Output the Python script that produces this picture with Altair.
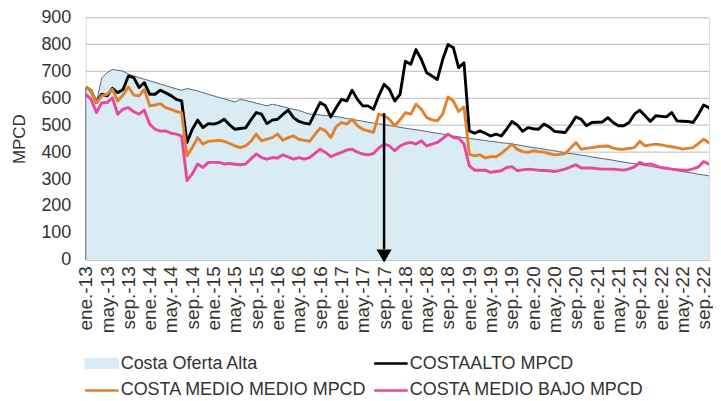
import altair as alt
import pandas as pd

MESES = ["ene.", "feb.", "mar.", "abr.", "may.", "jun.", "jul.", "ago.", "sep.", "oct.", "nov.", "dic."]
N = 119  # ene.-13 .. nov.-22
fechas = [f"{MESES[i % 12]}-{13 + i // 12}" for i in range(N)]

oferta_alta = [
    640, 625, 585, 676, 695, 707, 704, 701, 690, 683,
    677, 671, 665, 659, 653, 647, 641, 635, 630, 636,
    632, 627, 621, 615, 609, 603, 598, 592, 586, 596,
    592, 587, 582, 577, 572, 578, 574, 569, 564, 559,
    555, 548, 541, 540, 538, 536, 534, 532, 529, 525,
    522, 518, 515, 511, 508, 505, 502, 499, 496, 492,
    489, 486, 483, 480, 477, 473, 470, 467, 463, 460,
    457, 454, 451, 448, 446, 443, 440, 438, 435, 433,
    430, 427, 424, 420, 417, 414, 411, 408, 405, 401,
    398, 395, 392, 389, 386, 382, 379, 376, 373, 370,
    366, 363, 360, 357, 354, 351, 347, 344, 341, 338,
    335, 331, 328, 325, 322, 318, 315, 312, 309,
]

costa_alto = [
    642, 628, 584, 615, 609, 637, 621, 633, 683, 677,
    640, 658, 615, 615, 630, 620, 610, 596, 590, 436,
    485, 519, 491, 506, 504, 510, 522, 501, 485, 488,
    490, 520, 547, 541, 506, 519, 522, 540, 556, 528,
    514, 508, 504, 545, 584, 572, 531, 565, 596, 590,
    630, 596, 572, 572, 559, 609, 652, 633, 590, 615,
    738, 726, 781, 744, 695, 683, 670, 744, 800, 788,
    714, 732, 479, 470, 479, 470, 460, 467, 460, 485,
    514, 501, 477, 491, 487, 485, 504, 494, 477, 475,
    473, 500, 531, 522, 498, 510, 511, 512, 528, 510,
    498, 498, 510, 541, 556, 535, 514, 535, 533, 531,
    547, 516, 515, 514, 510, 540, 575, 565, 535,
]

costa_medio_medio = [
    642, 627, 584, 609, 615, 633, 590, 612, 642, 612,
    609, 633, 572, 575, 580, 565, 559, 551, 547, 386,
    417, 454, 430, 440, 442, 444, 440, 432, 423, 417,
    423, 440, 467, 442, 448, 454, 467, 444, 454, 460,
    448, 444, 440, 465, 489, 479, 454, 495, 510, 504,
    522, 498, 485, 479, 473, 541, 535, 522, 498, 520,
    547, 541, 578, 559, 528, 520, 516, 541, 605, 590,
    551, 568, 393, 386, 390, 378, 383, 383, 395, 411,
    430, 410, 402, 399, 405, 402, 400, 395, 390, 392,
    395, 415, 436, 411, 414, 417, 420, 422, 423, 415,
    411, 411, 414, 417, 440, 423, 427, 430, 427, 423,
    420, 417, 411, 414, 417, 432, 448, 435, 423,
]

costa_medio_bajo = [
    615, 596, 547, 584, 584, 602, 541, 560, 565, 550,
    541, 556, 504, 485, 478, 479, 470, 467, 460, 294,
    319, 356, 343, 362, 362, 362, 356, 358, 355, 353,
    356, 375, 393, 380, 374, 380, 378, 390, 382, 374,
    380, 374, 380, 395, 411, 399, 383, 392, 399, 408,
    411, 400, 393, 390, 395, 415, 430, 423, 405, 423,
    432, 436, 430, 442, 423, 430, 436, 450, 467, 454,
    452, 430, 349, 333, 333, 333, 325, 328, 331, 343,
    346, 331, 334, 337, 335, 333, 332, 331, 328, 332,
    337, 345, 353, 341, 341, 341, 339, 337, 337, 337,
    335, 333, 338, 345, 362, 353, 356, 350, 343, 340,
    337, 335, 333, 333, 338, 345, 365, 355, 346,
]

# orden de la leyenda (columna por columna)
SERIES = ["Costa Oferta Alta", "COSTA MEDIO MEDIO MPCD", "COSTAALTO MPCD", "COSTA MEDIO BAJO MPCD"]
COLORES = ["#DAECF3", "#E2802E", "#000000", "#E8479C"]
LINEAS = [("COSTAALTO MPCD", costa_alto), ("COSTA MEDIO MEDIO MPCD", costa_medio_medio),
          ("COSTA MEDIO BAJO MPCD", costa_medio_bajo)]

TICK_IDX = list(range(0, 117, 4))
TICK_LABELS = [fechas[i] for i in TICK_IDX]
Y_TICKS = list(range(0, 1000, 100))

# flecha en sep.-17
FLECHA_MES = fechas.index("sep.-17")
FLECHA_TOP = 545
FLECHA_BASE = 40
FLECHA_PUNTA = 14

FONT = "Liberation Sans"
TXT = "#333333"

area_df = pd.DataFrame({"mes": list(range(N)), "fecha": fechas, "serie": SERIES[0], "valor": oferta_alta})
area_df["cero"] = 0
lineas_df = pd.concat([
    pd.DataFrame({"mes": list(range(N)), "fecha": fechas, "serie": s, "valor": v})
    for s, v in LINEAS
], ignore_index=True)
flecha_df = pd.DataFrame({"mes": [FLECHA_MES], "top": [FLECHA_TOP], "base": [FLECHA_BASE], "punta": [FLECHA_PUNTA]})
grid_df = pd.DataFrame({"nivel": Y_TICKS[1:]})

label_js = "[" + ",".join(f"'{l}'" for l in TICK_LABELS) + "]"

xscale = alt.Scale(domain=[0, 117], nice=False, zero=False)
yscale = alt.Scale(domain=[0, 900], nice=False)

x_axis = alt.Axis(
    values=TICK_IDX, labelExpr=f"{label_js}[round(datum.value / 4)]",
    labelAngle=270, labelAlign="right", labelBaseline="middle",
    labelFont=FONT, labelFontSize=19, labelColor=TXT, labelPadding=6,
    labelOverlap=False, labelFlush=False, ticks=False, grid=False,
    domainColor="#BFBFBF", domainWidth=1, title=None,
)
y_axis = alt.Axis(
    values=Y_TICKS, title="MPCD", titleFont=FONT, titleFontSize=17, titleFontWeight="normal",
    titleColor=TXT, titlePadding=12, labelFont=FONT, labelFontSize=18, labelColor=TXT,
    labelPadding=15, labelOverlap=False, labelFlush=False, ticks=False, domain=False, grid=False,
)


def X(field):
    return alt.X(field, scale=xscale, axis=x_axis)


def Y(field):
    return alt.Y(field, scale=yscale, axis=y_axis)


is_area = "datum.value == 'Costa Oferta Alta'"
legend = alt.Legend(
    title=None, orient="none", legendX=7, legendY=338, columns=2,
    labelFont=FONT, labelFontSize=18, labelColor=TXT, labelOffset=10, labelLimit=400,
    columnPadding=2, rowPadding=9, padding=0, symbolOffset=0, symbolSize=576,
    symbolType={"expr": f"{is_area} ? 'M-1.4,-0.42H1.4V0.42H-1.4Z' : 'M-1.4,0H1.4'"},
    symbolFillColor={"expr": f"{is_area} ? '#DAECF3' : 'transparent'"},
    symbolStrokeColor={"expr": f"{is_area} ? '#8592A6' : scale('color', datum.value)"},
    symbolStrokeWidth={"expr": f"{is_area} ? 1 : 2.5"},
)
color = alt.Color("serie:N", scale=alt.Scale(domain=SERIES, range=COLORES), legend=legend)

grid = alt.Chart(grid_df).mark_rule(color="#C9C9C9", strokeWidth=1.2, opacity=1).encode(
    y=Y("nivel:Q")
)
area = alt.Chart(area_df).mark_area(opacity=1, clip=True).encode(x=X("mes:Q"), y=Y("valor:Q"), color=color)
area_borde = alt.Chart(area_df).mark_line(color="#56627A", strokeWidth=1, clip=True).encode(
    x=X("mes:Q"), y=Y("valor:Q")
)
area_izq = alt.Chart(area_df.head(1)).mark_rule(color="#56627A", strokeWidth=1).encode(
    x=X("mes:Q"), y=Y("cero:Q"), y2=alt.Y2("valor:Q")
)
lineas = alt.Chart(lineas_df).mark_line(strokeWidth=2.9, clip=True, strokeJoin="round").encode(
    x=X("mes:Q"), y=Y("valor:Q"), color=color, order=alt.Order("mes:Q"),
)
flecha = alt.Chart(flecha_df).mark_rule(color="black", strokeWidth=2.5).encode(
    x=X("mes:Q"), y=Y("top:Q"), y2=alt.Y2("base:Q")
)
punta = alt.Chart(flecha_df).mark_point(shape="triangle-down", filled=True, size=230, color="black", opacity=1).encode(
    x=X("mes:Q"), y=Y("punta:Q")
)

chart = alt.layer(grid, area, area_borde, area_izq, lineas, flecha, punta).properties(
    width=625, height=243,
    autosize=alt.AutoSizeParams(type="none"),
    padding={"left": 78, "top": 9, "right": 4, "bottom": 138},
).configure_view(stroke=None).configure_axis(labelOverlap=False).configure(background="white")

chart.save("out.html", embed_options={"renderer": "svg", "actions": False})
